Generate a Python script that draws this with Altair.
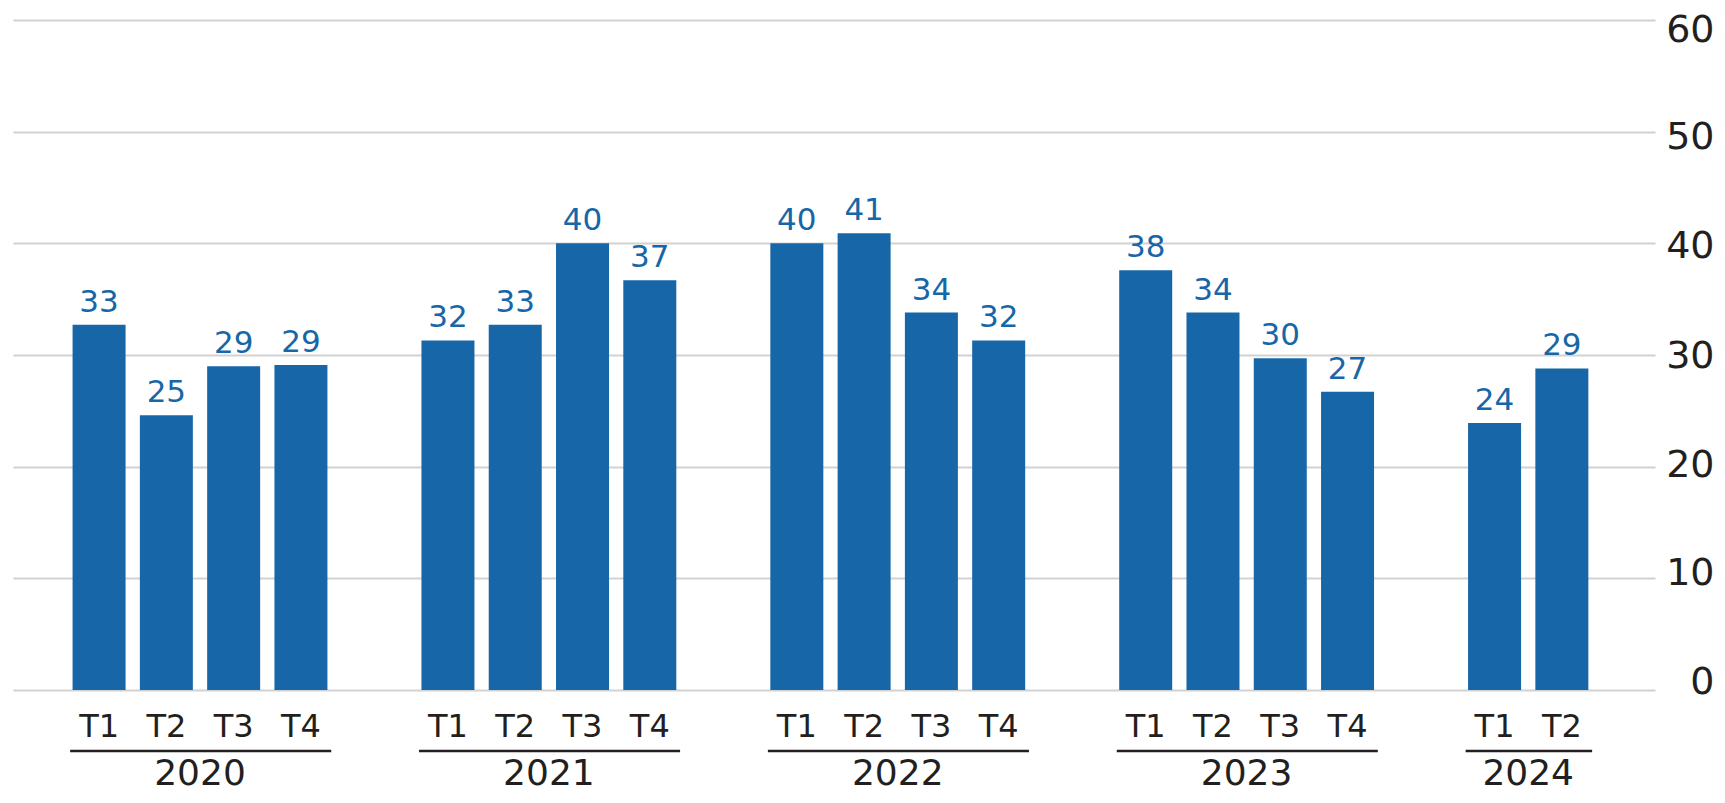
import altair as alt
import pandas as pd

years = ["2020", "2021", "2022", "2023", "2024"]
quarters = [["T1", "T2", "T3", "T4"],
            ["T1", "T2", "T3", "T4"],
            ["T1", "T2", "T3", "T4"],
            ["T1", "T2", "T3", "T4"],
            ["T1", "T2"]]
values = [32.7, 24.6, 29.0, 29.1,
          31.3, 32.7, 40.0, 36.7,
          40.0, 40.9, 33.8, 31.3,
          37.6, 33.8, 29.7, 26.7,
          23.9, 28.8]
labels = ["33", "25", "29", "29",
          "32", "33", "40", "37",
          "40", "41", "34", "32",
          "38", "34", "30", "27",
          "24", "29"]
y_ticks = [0, 10, 20, 30, 40, 50, 60]
# small vertical shift of each tick label relative to its gridline, as in the original
tick_label_shift = [-8, -5, -1, 1, 3, 6, 10]

BLUE = "#1767a8"
DARK = "#231f20"
FONT = "DejaVu Sans"
GROUP = 5.185

rows = []
k = 0
for yi, (yr, qs) in enumerate(zip(years, quarters)):
    for qi, q in enumerate(qs):
        rows.append({"year": yr, "yi": yi, "quarter": q, "qi": qi,
                     "value": values[k], "label": labels[k]})
        k += 1
df = pd.DataFrame(rows)
ydf = pd.DataFrame({"year": years, "yi": list(range(len(years))),
                    "nq": [len(q) for q in quarters]})

xscale = alt.Scale(domain=[-1.205, 23.05], nice=False, zero=False)
yscale = alt.Scale(domain=[0, 60], nice=False)

offset_cond = {
    "condition": [{"test": f"datum.value == {v}", "value": s}
                  for v, s in zip(y_ticks, tick_label_shift)],
    "value": 0,
}

base = alt.Chart(df).transform_calculate(pos=f"datum.yi * {GROUP} + datum.qi")

bars = base.mark_bar(width=53, color=BLUE).encode(
    x=alt.X("pos:Q", scale=xscale, axis=None),
    y=alt.Y("value:Q", scale=yscale,
            axis=alt.Axis(orient="right", values=y_ticks, grid=True,
                          gridColor="#d2d2d2", gridWidth=2, domain=False,
                          ticks=False, tickSize=0, labelAlign="right",
                          labelPadding=59, labelFontSize=38, labelFont=FONT,
                          labelColor=DARK, labelOffset=offset_cond,
                          title=None)),
)

vlabels = base.mark_text(font=FONT, fontSize=31, color=BLUE,
                         baseline="alphabetic", dy=-13).encode(
    x=alt.X("pos:Q", scale=xscale),
    y=alt.Y("value:Q", scale=yscale),
    text="label:N",
)

qlabels = base.mark_text(font=FONT, fontSize=32, color=DARK,
                         baseline="alphabetic", dy=47).encode(
    x=alt.X("pos:Q", scale=xscale),
    y=alt.datum(0),
    text="quarter:N",
)

ybase = alt.Chart(ydf).transform_calculate(
    start=f"datum.yi * {GROUP} - 0.43",
    end=f"datum.yi * {GROUP} + datum.nq - 1 + 0.45",
    mid=f"datum.yi * {GROUP} + (datum.nq - 1) / 2",
)

underline = ybase.mark_rule(color=DARK, strokeWidth=2.5, yOffset=61).encode(
    x=alt.X("start:Q", scale=xscale),
    x2="end:Q",
    y=alt.datum(0),
)

ylabels = ybase.mark_text(font=FONT, fontSize=36, color=DARK,
                          baseline="alphabetic", dy=95).encode(
    x=alt.X("mid:Q", scale=xscale),
    y=alt.datum(0),
    text="year:N",
)

chart = alt.layer(bars, vlabels, qlabels, underline, ylabels).properties(
    width=1642,
    height=670,
    autosize=alt.AutoSizeParams(type="none"),
    padding={"left": 5, "top": 12, "right": 62, "bottom": 104},
).configure_view(stroke=None)

chart.save("out.html", embed_options={"renderer": "svg", "actions": False})
